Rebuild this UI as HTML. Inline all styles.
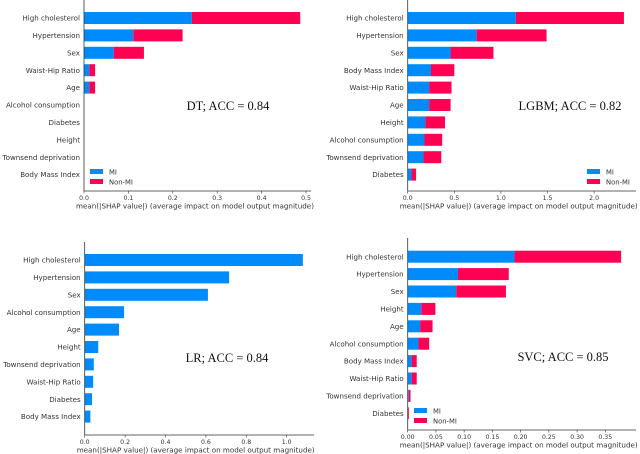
<!DOCTYPE html>
<html><head><meta charset="utf-8">
<style>
html,body{margin:0;padding:0;background:#fff;}
svg{display:block;}
text{font-family:"DejaVu Sans","Liberation Sans",sans-serif;fill:#333;}
.ann{font-family:"Liberation Serif",serif;fill:#111;font-size:12.5px;}
</style></head>
<body>
<svg id="chart" width="640" height="454" viewBox="0 0 640 454" xmlns="http://www.w3.org/2000/svg"></svg>
<script>
const BLUE = '#008bfb', PINK = '#ff0052';

const dtCats = ['High cholesterol','Hypertension','Sex','Waist-Hip Ratio','Age','Alcohol consumption','Diabetes','Height','Townsend deprivation','Body Mass Index'];
const dtMI = [0.243,0.111,0.067,0.012,0.012,0,0,0,0,0];
const dtNonMI = [0.244,0.111,0.068,0.013,0.013,0,0,0,0,0];
const dtTicks = [0,0.1,0.2,0.3,0.4,0.5];
const dtTickLabels = ['0.0','0.1','0.2','0.3','0.4','0.5'];

const lgbmCats = ['High cholesterol','Hypertension','Sex','Body Mass Index','Waist-Hip Ratio','Age','Height','Alcohol consumption','Townsend deprivation','Diabetes'];
const lgbmMI = [1.16,0.74,0.46,0.25,0.23,0.23,0.19,0.18,0.17,0.04];
const lgbmNonMI = [1.16,0.75,0.46,0.25,0.24,0.23,0.21,0.19,0.19,0.05];
const lgbmTicks = [0,0.5,1.0,1.5,2.0];
const lgbmTickLabels = ['0.0','0.5','1.0','1.5','2.0'];

const lrCats = ['High cholesterol','Hypertension','Sex','Alcohol consumption','Age','Height','Townsend deprivation','Waist-Hip Ratio','Diabetes','Body Mass Index'];
const lrVals = [1.08,0.715,0.61,0.195,0.17,0.067,0.045,0.042,0.036,0.028];
const lrTicks = [0,0.2,0.4,0.6,0.8,1.0];
const lrTickLabels = ['0.0','0.2','0.4','0.6','0.8','1.0'];

const svcCats = ['High cholesterol','Hypertension','Sex','Height','Age','Alcohol consumption','Body Mass Index','Waist-Hip Ratio','Townsend deprivation','Diabetes'];
const svcMI = [0.189,0.089,0.086,0.024,0.022,0.019,0.007,0.007,0.002,0.0005];
const svcNonMI = [0.189,0.090,0.088,0.025,0.022,0.019,0.009,0.009,0.003,0.0015];
const svcTicks = [0,0.05,0.10,0.15,0.20,0.25,0.30,0.35];
const svcTickLabels = ['0.00','0.05','0.10','0.15','0.20','0.25','0.30','0.35'];

const svg = document.getElementById('chart');
const NS = 'http://www.w3.org/2000/svg';
function mk(tag, attrs, parent){
  const e = document.createElementNS(NS, tag);
  for (const k in attrs) e.setAttribute(k, attrs[k]);
  parent.appendChild(e);
  return e;
}

function panel(o){
  const g = mk('g', {}, svg);
  
  
  const x = v => o.x0 + v * o.scale;
  const y = i => o.yTop + i * o.step;
  o.cats.forEach((c, i) => {
    const lab = mk('text', {x: o.x0 - 4, y: y(i) + 2.6, 'font-size': 7.1, 'text-anchor': 'end'}, g);
    lab.textContent = c;
    
    
    const a = o.s1[i];
    if (a > 0) {
      const r = mk('rect', {x: x(0), y: y(i) - 6, width: x(a) - x(0), height: 12, fill: BLUE}, g);
      
      
    }
    if (o.s2) {
      const b = o.s2[i];
      if (b > 0) {
        const r2 = mk('rect', {x: x(a), y: y(i) - 6, width: x(a + b) - x(a), height: 12, fill: PINK}, g);
        
        
      }
    }
  });
  const ya = mk('line', {x1: o.x0, y1: o.yAxisTop, x2: o.x0, y2: o.axisY, stroke: '#333', 'stroke-width': 0.8}, g);
  
  
  const xa = mk('line', {x1: o.x0, y1: o.axisY, x2: o.xEnd, y2: o.axisY, stroke: '#333', 'stroke-width': 0.8}, g);
  
  
  o.ticks.forEach((t, i) => {
    mk('line', {x1: x(t), y1: o.axisY, x2: x(t), y2: o.axisY + 2.5, stroke: '#333', 'stroke-width': 0.6}, g);
    const tl = mk('text', {x: x(t), y: o.axisY + 9, 'font-size': 6.2, 'text-anchor': 'middle', fill: '#555'}, g);
    tl.textContent = o.tickLabels[i];
    
    
  });
  const xl = mk('text', {x: o.x0 - 8, y: o.axisY + 17.5, 'font-size': 7.2, textLength: 238, lengthAdjust: 'spacingAndGlyphs'}, g);
  xl.textContent = 'mean(|SHAP value|) (average impact on model output magnitude)';
  
  
  const an = mk('text', {x: o.annX, y: o.annY, 'text-anchor': 'middle', class: 'ann'}, g);
  an.textContent = o.ann;
  
  
  if (o.legend) {
    const L = o.legend;
    const lg = mk('g', {}, g);
    
    
    [['MI', BLUE], ['Non-MI', PINK]].forEach((e, i) => {
      mk('rect', {x: L.x, y: L.y + i * 10 - 3, width: 13, height: 5, fill: e[1]}, lg);
      const t = mk('text', {x: L.x + 19, y: L.y + i * 10 + 2.5, 'font-size': 6.8}, lg);
      t.textContent = e[0];
      
      
    });
  }
}

panel({name: 'dt', cats: dtCats, s1: dtMI, s2: dtNonMI, ticks: dtTicks, tickLabels: dtTickLabels,
  x0: 84, scale: 444, yTop: 18, step: 17.4, yAxisTop: 0, axisY: 191, xEnd: 311,
  ann: 'DT; ACC = 0.84', annX: 228, annY: 110, legend: {x: 90, y: 172}});
panel({name: 'lgbm', cats: lgbmCats, s1: lgbmMI, s2: lgbmNonMI, ticks: lgbmTicks, tickLabels: lgbmTickLabels,
  x0: 407.7, scale: 93.2, yTop: 18, step: 17.4, yAxisTop: 0, axisY: 191, xEnd: 636,
  ann: 'LGBM; ACC = 0.82', annX: 570, annY: 110, legend: {x: 587, y: 172}});
panel({name: 'lr', cats: lrCats, s1: lrVals, s2: null, ticks: lrTicks, tickLabels: lrTickLabels,
  x0: 84.7, scale: 202, yTop: 260, step: 17.4, yAxisTop: 242, axisY: 435, xEnd: 314,
  ann: 'LR; ACC = 0.84', annX: 227, annY: 362, legend: null});
panel({name: 'svc', cats: svcCats, s1: svcMI, s2: svcNonMI, ticks: svcTicks, tickLabels: svcTickLabels,
  x0: 407.7, scale: 564.6, yTop: 256.7, step: 17.4, yAxisTop: 238, axisY: 430, xEnd: 636,
  ann: 'SVC; ACC = 0.85', annX: 563, annY: 361, legend: {x: 414, y: 411}});
</script>
</body></html>
